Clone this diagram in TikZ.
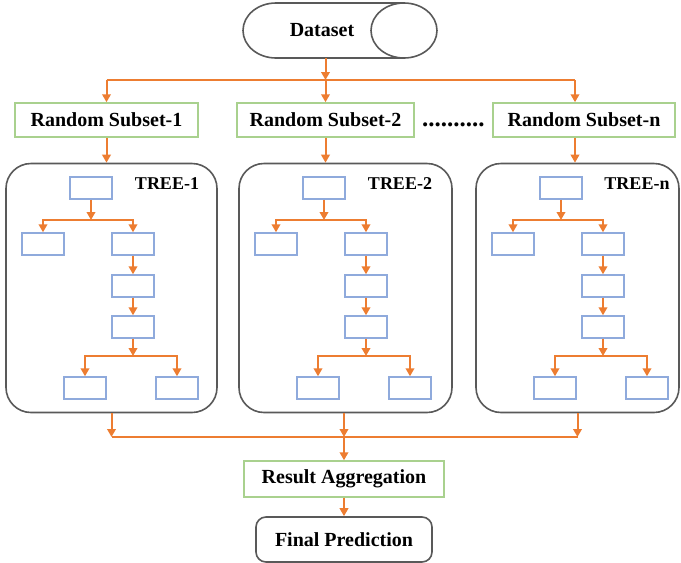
\documentclass[tikz,border=0pt]{standalone}
\usepackage{fontspec}
\setmainfont{Liberation Serif}
\usetikzlibrary{arrows.meta}

\definecolor{floworange}{RGB}{237,125,49}
\definecolor{subgreen}{RGB}{169,209,142}
\definecolor{leafblue}{RGB}{143,170,220}
\definecolor{framegray}{RGB}{89,89,89}

\begin{document}
\begin{tikzpicture}[x=1pt,y=-1pt,
  flow/.style={floworange, line width=2pt, -{Triangle[length=8pt,width=8.5pt]}},
  link/.style={floworange, line width=2pt},
  txt/.style={font=\fontsize{20}{23}\selectfont\bfseries},
  subset/.style={txt, draw=subgreen, line width=1.5pt, minimum height=34pt, inner sep=0pt},
  treebox/.style={draw=framegray, line width=1.6pt, rounded corners=25pt},
  leaf/.style={draw=leafblue, line width=1.4pt, minimum width=42pt, minimum height=22pt, inner sep=0pt}]

\useasboundingbox (0,0) rectangle (681,563);

% Dataset storage symbol
\node[txt, minimum height=55pt, inner sep=0pt] (data) at (322,30.5) {Dataset};
\draw[framegray, line width=1.6pt] (404,3) -- (276,3)
  arc[start angle=270, end angle=90, x radius=33, y radius=27.5] -- (404,58);
\draw[framegray, line width=1.6pt] (404,30.5) ellipse [x radius=33, y radius=27.5];

% Random subsets
\node[subset, minimum width=183pt] (sub1) at (106.5,120) {Random Subset-1};
\node[subset, minimum width=177pt] (sub2) at (325.5,120) {Random Subset-2};
\node[subset, minimum width=182pt] (subn) at (584,120) {Random Subset-n};
\node[font=\fontsize{25}{25}\selectfont\bfseries, anchor=base west, inner sep=0pt] (dots) at (422,126) {..........};

% Split from the dataset
\coordinate (hub) at (325.5,80);
\coordinate (hn) at (575,80);
\draw[flow] (data.south -| hub) -- (hub);
\draw[link] (sub1.north |- hub) -- (hn);
\draw[flow] (hub) -- (sub2.north);
\draw[flow] (sub1.north |- hub) -- (sub1.north);
\draw[flow] (hn) -- (hn |- subn.north);

% Trees
\foreach \t/\L/\w in {1/6/211,2/239/213,n/476/203}{
  \node[treebox, minimum width=\w pt, minimum height=249pt] (t\t) at (\L+\w/2,288) {};
  \node[font=\fontsize{18}{21}\selectfont\bfseries] (lab\t) at (\L+161,184) {TREE-\t};
  \node[leaf] (r\t) at (\L+85,188) {};
  \node[leaf] (a\t) at (\L+37,244) {};
  \node[leaf] (b\t) at (\L+127,244) {};
  \node[leaf] (c\t) at (\L+127,286) {};
  \node[leaf] (d\t) at (\L+127,327) {};
  \node[leaf] (e\t) at (\L+79,388) {};
  \node[leaf] (f\t) at (\L+171,388) {};
  \coordinate (j\t) at (\L+85,220);
  \coordinate (k\t) at (\L+127,356);
  \draw[flow] (r\t) -- (j\t);
  \draw[flow] (j\t) -| (a\t);
  \draw[flow] (j\t) -| (b\t);
  \draw[flow] (b\t) -- (c\t);
  \draw[flow] (c\t) -- (d\t);
  \draw[flow] (d\t) -- (k\t);
  \draw[flow] (k\t) -| (e\t);
  \draw[flow] (k\t) -| (f\t);
}

% Subsets into trees
\draw[flow] (sub1.south) -- (sub1.south |- t1.north);
\draw[flow] (sub2.south) -- (sub2.south |- t2.north);
\draw[flow] (subn.south -| hn) -- (hn |- tn.north);

% Aggregation and prediction
\node[subset, minimum width=200pt, minimum height=36pt] (agg) at (344,479) {Result Aggregation};
\node[txt, draw=framegray, line width=1.6pt, rounded corners=10pt, minimum width=176pt, minimum height=45pt] (final) at (344,539.5) {Final Prediction};

\coordinate (mid) at (344,437);
\draw[flow] (t1.south) -- (t1.south |- mid);
\draw[flow] (t2.south -| mid) -- (mid);
\draw[flow] (tn.south) -- (tn.south |- mid);
\draw[link] (t1.south |- mid) -- (tn.south |- mid);
\draw[flow] (mid) -- (agg);
\draw[flow] (agg) -- (final);

\end{tikzpicture}
\end{document}
